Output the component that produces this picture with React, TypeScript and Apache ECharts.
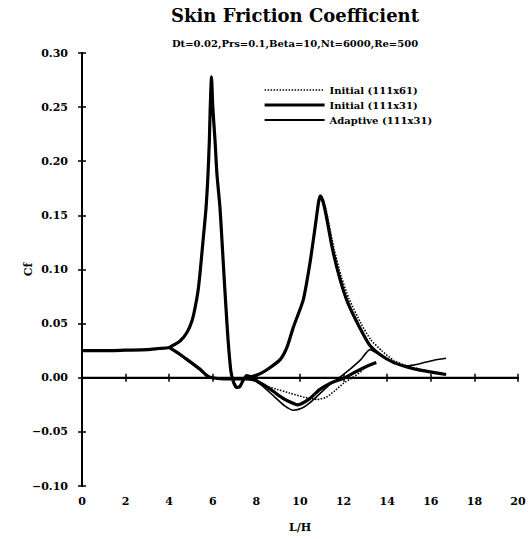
import React, { useEffect, useRef } from "react";
import * as echarts from "echarts";

const TITLE = "Skin Friction Coefficient";
const SUBTITLE = "Dt=0.02,Prs=0.1,Beta=10,Nt=6000,Re=500";
const LEGEND_NAMES = ["Initial (111x61)", "Initial (111x31)", "Adaptive (111x31)"];

// Initial (111x31), wall with the two peaks
const initial31Upper: [number, number][] = [
  [0, 0.025], [1, 0.025], [2, 0.0255], [3, 0.026], [3.5, 0.027], [4.0, 0.028],
  [4.5, 0.034], [4.82, 0.042], [5.05, 0.053], [5.18, 0.064], [5.32, 0.08],
  [5.41, 0.096], [5.55, 0.126], [5.69, 0.157], [5.78, 0.188], [5.84, 0.218],
  [5.88, 0.248], [5.94, 0.278], [6.0, 0.25], [6.1, 0.22], [6.19, 0.188],
  [6.33, 0.157], [6.42, 0.127], [6.51, 0.096], [6.6, 0.066], [6.7, 0.035],
  [6.83, 0.006], [6.95, -0.004], [7.1, -0.009], [7.25, -0.008], [7.4, -0.002],
  [7.55, 0.002], [7.75, 0.001], [7.95, 0.002], [8.2, 0.004], [8.6, 0.009],
  [9.1, 0.017], [9.4, 0.028], [9.7, 0.047], [10.15, 0.072], [10.45, 0.105],
  [10.7, 0.14], [10.85, 0.162], [10.93, 0.168], [11.05, 0.163], [11.2, 0.15],
  [11.5, 0.118], [11.85, 0.09], [12.2, 0.069], [12.75, 0.046], [13.2, 0.03],
  [13.7, 0.021], [14.3, 0.014], [14.9, 0.01], [15.5, 0.007], [16.1, 0.005],
  [16.7, 0.003],
];

// Initial (111x61), wall with the two peaks
const initial61Upper: [number, number][] = [
  [0, 0.025], [1, 0.025], [2, 0.0255], [3, 0.026], [3.5, 0.027], [4.0, 0.028],
  [4.5, 0.034], [4.82, 0.042], [5.05, 0.053], [5.18, 0.064], [5.32, 0.08],
  [5.41, 0.096], [5.55, 0.126], [5.69, 0.157], [5.78, 0.188], [5.84, 0.218],
  [5.88, 0.248], [5.94, 0.276], [6.0, 0.25], [6.1, 0.22], [6.19, 0.188],
  [6.33, 0.157], [6.42, 0.127], [6.51, 0.096], [6.6, 0.066], [6.7, 0.035],
  [6.83, 0.006], [6.95, -0.004], [7.1, -0.009], [7.25, -0.008], [7.4, -0.002],
  [7.55, 0.002], [7.75, 0.001], [7.95, 0.002], [8.2, 0.004], [8.6, 0.009],
  [9.1, 0.017], [9.4, 0.028], [9.7, 0.047], [10.15, 0.072], [10.45, 0.105],
  [10.7, 0.14], [10.85, 0.162], [10.95, 0.168], [11.1, 0.163], [11.25, 0.15],
  [11.55, 0.12], [11.9, 0.093], [12.25, 0.073], [12.8, 0.05], [13.25, 0.035],
  [13.75, 0.025], [14.3, 0.016], [14.9, 0.011], [15.5, 0.008], [16.1, 0.005],
  [16.7, 0.003],
];

// Adaptive (111x31), wall with the two peaks
const adaptiveUpper: [number, number][] = [
  [0, 0.025], [1, 0.025], [2, 0.0255], [3, 0.026], [3.5, 0.027], [4.0, 0.028],
  [4.5, 0.034], [4.82, 0.042], [5.05, 0.053], [5.18, 0.064], [5.32, 0.08],
  [5.41, 0.096], [5.55, 0.126], [5.69, 0.157], [5.78, 0.188], [5.84, 0.218],
  [5.88, 0.248], [5.94, 0.277], [6.0, 0.25], [6.1, 0.22], [6.19, 0.188],
  [6.33, 0.157], [6.42, 0.127], [6.51, 0.096], [6.6, 0.066], [6.7, 0.035],
  [6.83, 0.006], [6.95, -0.004], [7.1, -0.009], [7.25, -0.008], [7.4, -0.002],
  [7.55, 0.002], [7.75, 0.001], [7.95, 0.002], [8.2, 0.004], [8.6, 0.009],
  [9.1, 0.017], [9.4, 0.028], [9.7, 0.047], [10.15, 0.072], [10.45, 0.105],
  [10.7, 0.14], [10.85, 0.162], [10.93, 0.167], [11.05, 0.162], [11.2, 0.149],
  [11.5, 0.117], [11.85, 0.089], [12.2, 0.068], [12.75, 0.045], [13.2, 0.03],
];

// Opposite wall curves
const initial61Lower: [number, number][] = [
  [4.0, 0.028], [4.5, 0.0215], [4.95, 0.015], [5.41, 0.008], [5.73, 0.002],
  [5.96, 0.0], [6.5, -0.001], [7.0, -0.001], [7.5, -0.001], [7.9, -0.002],
  [8.1, -0.005], [8.5, -0.008], [9.0, -0.011], [9.5, -0.014], [10.2, -0.018],
  [10.8, -0.02], [11.2, -0.018], [11.6, -0.012], [12.0, -0.005], [12.4, 0.0],
  [12.9, 0.007],
];

const initial31Lower: [number, number][] = [
  [4.0, 0.028], [4.5, 0.0215], [4.95, 0.015], [5.41, 0.008], [5.73, 0.002],
  [5.96, 0.0], [6.5, -0.001], [7.0, -0.001], [7.5, -0.001], [7.9, -0.002],
  [8.2, -0.005], [8.6, -0.01], [9.0, -0.016], [9.4, -0.021], [9.9, -0.025],
  [10.4, -0.02], [10.9, -0.011], [11.4, -0.005], [12.05, 0.0], [12.5, 0.005],
  [13.0, 0.01], [13.5, 0.014],
];

const adaptiveLower: [number, number][] = [
  [4.0, 0.028], [4.5, 0.021], [4.95, 0.014], [5.41, 0.007], [5.73, 0.002],
  [5.96, 0.0], [6.5, -0.001], [7.0, -0.001], [7.5, -0.001], [7.9, -0.002],
  [8.3, -0.008], [8.8, -0.017], [9.3, -0.026], [9.7, -0.03], [10.1, -0.028],
  [10.46, -0.023], [11.0, -0.013], [11.4, -0.006], [11.8, 0.0], [12.3, 0.008],
  [12.8, 0.017], [13.2, 0.026], [13.6, 0.022], [14.2, 0.015], [14.9, 0.011],
  [15.5, 0.013], [16.1, 0.016], [16.7, 0.018],
];

const zeroLine: [number, number][] = [[0, 0], [20, 0]];

const FONT = "DejaVu Serif";

export default function App() {
  const ref = useRef<HTMLDivElement>(null);
  useEffect(() => {
    document.body.style.margin = "0";
    if (!ref.current) return;
    const chart = echarts.init(ref.current, undefined, { renderer: "svg" });
    const axisLine = { show: true, lineStyle: { color: "#000", width: 2 } };
    const axisTick = { show: true, inside: true, length: 4, lineStyle: { color: "#000", width: 1.5 } };
    const labelStyle = { fontFamily: FONT, fontWeight: "bold", fontSize: 11, color: "#000" };
    const dotted = { color: "#000", width: 1.6, type: [1.5, 1.5] as any };
    const thick = { color: "#000", width: 3.2, type: "solid" as any };
    const thin = { color: "#000", width: 1.6, type: "solid" as any };
    const mk = (name: string, data: [number, number][], lineStyle: any, z: number) => ({
      name,
      type: "line",
      data,
      showSymbol: false,
      symbol: "none",
      smooth: 0.2,
      lineStyle,
      itemStyle: { color: "#000" },
      z,
    });
    chart.setOption({
      animation: false,
      backgroundColor: "#fff",
      title: [
        {
          text: TITLE,
          left: 290,
          top: 1,
          textAlign: "center",
          textStyle: { fontFamily: FONT, fontSize: 18, fontWeight: "bold", color: "#000" },
        },
        {
          text: SUBTITLE,
          left: 290,
          top: 33,
          textAlign: "center",
          textStyle: { fontFamily: FONT, fontSize: 10, fontWeight: "bold", color: "#000" },
        },
      ],
      legend: {
        data: [
          { name: LEGEND_NAMES[0], lineStyle: { ...dotted } },
          { name: LEGEND_NAMES[1], lineStyle: { ...thick } },
          { name: LEGEND_NAMES[2], lineStyle: { ...thin, width: 2 } },
        ],
        orient: "vertical",
        left: 263,
        top: 85,
        itemWidth: 60,
        itemHeight: 10,
        itemGap: 5,
        padding: 0,
        itemStyle: { opacity: 0 },
        textStyle: { fontFamily: FONT, fontWeight: "bold", fontSize: 10, color: "#000" },
      },
      grid: { left: 82, right: 12, top: 53, bottom: 53 },
      xAxis: [
        {
          type: "value",
          min: 0,
          max: 20,
          interval: 2,
          position: "bottom",
          axisLine,
          axisTick,
          axisLabel: { ...labelStyle, margin: 10 },
          splitLine: { show: false },
          name: "L/H",
          nameLocation: "middle",
          nameGap: 36,
          nameMoveOverlap: false,
          nameTextStyle: { fontFamily: FONT, fontWeight: "bold", fontSize: 11, color: "#000" },
        },
        {
          type: "value",
          min: 0,
          max: 20,
          interval: 2,
          position: "top",
          axisLine,
          axisTick,
          axisLabel: { show: false },
          splitLine: { show: false },
        },
      ],
      yAxis: [
        {
          type: "value",
          min: -0.1,
          max: 0.3,
          interval: 0.05,
          position: "left",
          axisLine,
          axisTick,
          axisLabel: {
            ...labelStyle,
            margin: 14,
            formatter: (v: number) => v.toFixed(2).replace("-", "\u2212"),
          },
          splitLine: { show: false },
          name: "Cf",
          nameLocation: "middle",
          nameGap: 48,
          nameMoveOverlap: false,
          nameTextStyle: { fontFamily: FONT, fontWeight: "bold", fontSize: 11, color: "#000" },
        },
        {
          type: "value",
          min: -0.1,
          max: 0.3,
          interval: 0.05,
          position: "right",
          axisLine,
          axisTick,
          axisLabel: { show: false },
          splitLine: { show: false },
        },
      ],
      series: [
        {
          name: "zero",
          type: "line",
          data: zeroLine,
          showSymbol: false,
          symbol: "none",
          lineStyle: { color: "#000", width: 2 },
          silent: true,
          z: 1,
        },
        mk(LEGEND_NAMES[0], initial61Upper, dotted, 2),
        mk(LEGEND_NAMES[1], initial31Upper, thick, 4),
        mk(LEGEND_NAMES[2], adaptiveUpper, thin, 3),
        mk(LEGEND_NAMES[0], initial61Lower, dotted, 2),
        mk(LEGEND_NAMES[1], initial31Lower, thick, 4),
        mk(LEGEND_NAMES[2], adaptiveLower, thin, 3),
      ],
    });
    return () => chart.dispose();
  }, []);
  return <div ref={ref} style={{ width: 530, height: 539 }} />;
}
